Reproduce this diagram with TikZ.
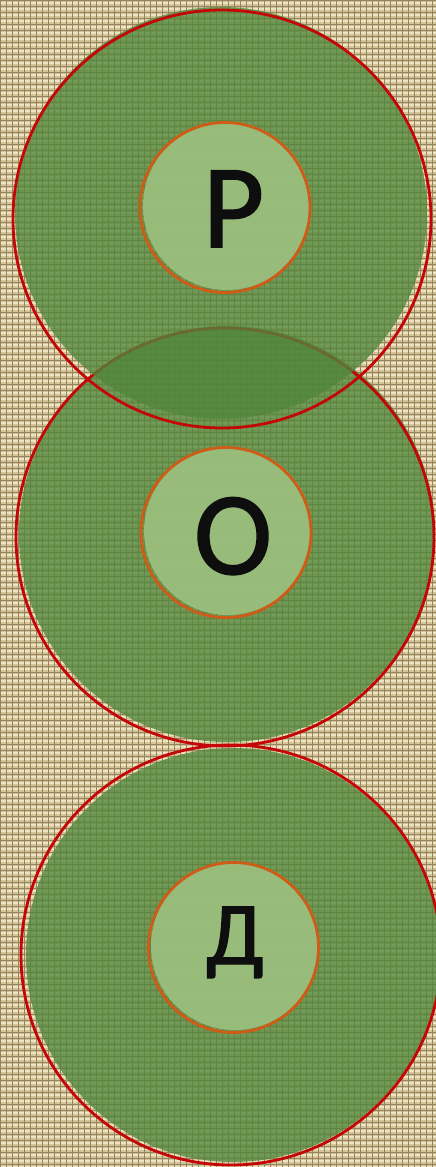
\documentclass[tikz,border=0pt]{standalone}
\usepackage{fontspec}
\setmainfont{Carlito}
\usetikzlibrary{patterns.meta}
\definecolor{bgbase}{RGB}{212,196,154}
\definecolor{bglight}{RGB}{238,228,194}
\definecolor{bgdark}{RGB}{150,132,96}
\definecolor{outergreen}{RGB}{80,134,60}
\definecolor{innergreen}{RGB}{155,190,125}
\definecolor{ringred}{RGB}{196,6,6}
\definecolor{ringorange}{RGB}{206,92,22}
\definecolor{lettercol}{RGB}{14,14,14}
\tikzset{
  outerfill/.style={fill=outergreen, fill opacity=0.78},
  innerfill/.style={fill=innergreen, fill opacity=0.95},
  redring/.style={circle, draw=ringred, line width=2.8pt, inner sep=0pt, outer sep=0pt},
  orangering/.style={circle, draw=ringorange, line width=2.8pt, inner sep=0pt, outer sep=0pt},
  letter/.style={anchor=base, text=lettercol, inner sep=0pt}
}
\begin{document}
\begin{tikzpicture}[x=1pt,y=-1pt]
\useasboundingbox (0,0) rectangle (436,1167);
% burlap background
\fill[bgbase] (0,0) rectangle (436,1167);
\fill[pattern={Lines[distance=6pt,angle=0,line width=2pt]}, pattern color=bglight, fill opacity=0.7] (0,0) rectangle (436,1167);
\fill[pattern={Lines[distance=6pt,angle=90,line width=1pt]}, pattern color=bgdark, fill opacity=0.22] (0,0) rectangle (436,1167);
\fill[pattern={Lines[distance=6pt,angle=0,line width=0.8pt,yshift=3pt]}, pattern color=bgdark, fill opacity=0.22] (0,0) rectangle (436,1167);
% circle 3
\fill[outerfill] (233,955) circle[radius=207pt];
\node[redring, minimum size=420pt] (ring3) at (231,955) {};
% circle 2
\fill[outerfill] (227,534) circle[radius=208pt];
\node[redring, minimum size=418pt] (ring2) at (225,537) {};
% circle 1
\fill[outerfill] (221,213) circle[radius=206pt];
\node[redring, minimum size=418pt] (ring1) at (222,219) {};
% inner circles
\fill[innerfill] (227,206) circle[radius=84pt];
\node[orangering, minimum size=170pt] (inner1) at (225,207.5) {};
\fill[innerfill] (228,531) circle[radius=84pt];
\node[orangering, minimum size=170pt] (inner2) at (226,532.5) {};
\fill[innerfill] (235,946) circle[radius=84pt];
\node[orangering, minimum size=170pt] (inner3) at (233.5,947.5) {};
% letters (slightly emboldened with a thin outline stroke)
\node[letter, font=\fontsize{119}{119}\selectfont] (l1) at (233.5,247) {\special{pdf:literal direct 2 Tr 1.6 w 0.055 0.055 0.055 RG}Р\special{pdf:literal direct 0 Tr}};
\node[letter, font=\fontsize{118}{118}\selectfont] (l2) at (233,574) {\special{pdf:literal direct 2 Tr 1.6 w 0.055 0.055 0.055 RG}О\special{pdf:literal direct 0 Tr}};
\node[letter, font=\fontsize{89}{89}\selectfont] (l3) at (235,964) {\special{pdf:literal direct 2 Tr 1.4 w 0.055 0.055 0.055 RG}Д\special{pdf:literal direct 0 Tr}};
\end{tikzpicture}
\end{document}
